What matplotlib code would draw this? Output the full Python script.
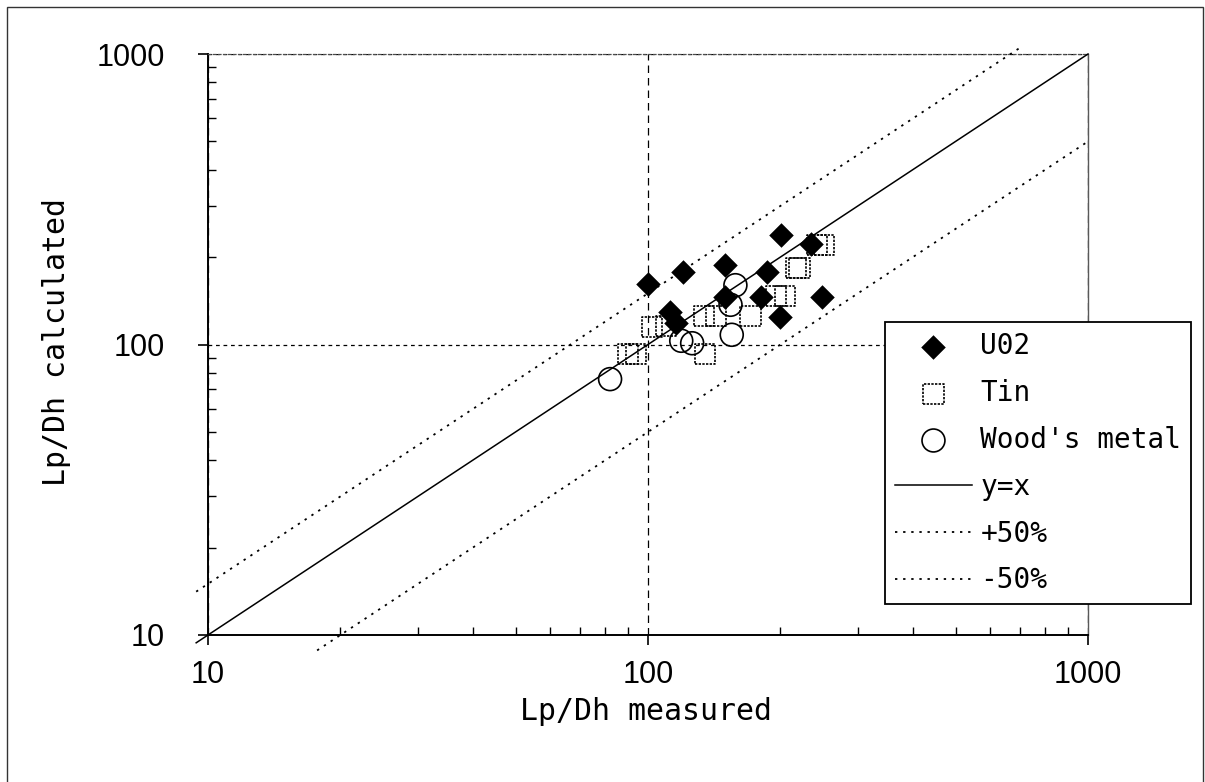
import numpy as np
import matplotlib
matplotlib.use("Agg")
import matplotlib.pyplot as plt
from matplotlib.patches import Rectangle
from matplotlib import font_manager

# measured / calculated Lp/Dh
uo2_meas = [201, 150, 120, 100, 186, 150, 181, 248, 235, 200, 112, 116]
uo2_calc = [239, 188, 178, 162, 178, 146, 146, 146, 221, 124, 129, 119]

tin_meas = [242, 251, 217, 221, 195, 205, 134, 143, 171, 102, 110, 90, 94, 135]
tin_calc = [220, 220, 183, 183, 147, 147, 125, 125, 125, 115, 116, 93, 93, 93]

wood_meas = [158, 154, 155, 119, 126, 82]
wood_calc = [160, 137, 108, 103, 101, 76]

# reference lines: y = x, +50 %, -50 %
line_x_eq = [9.4, 1000]
line_x_up = [9.4, 710]
line_x_lo = [17.7, 1000]

ticks = [10, 100, 1000]
tick_labels = ["10", "100", "1000"]

# narrow font for the tick numbers if there is one
names = {f.name for f in font_manager.fontManager.ttflist}
if "Liberation Sans Narrow" in names:
    tick_family, tick_size = ["Liberation Sans Narrow"], 26
else:
    tick_family, tick_size = ["Liberation Sans"], 22
monofont = ["DejaVu Sans Mono", "DejaVu Sans"]

W, H = 1205, 782
fig = plt.figure(figsize=(W / 100, H / 100), dpi=100)
ax = fig.add_axes([208 / W, 1 - 635 / H, 880 / W, 581 / H])
ax.set_xscale("log")
ax.set_yscale("log")
ax.set_xlim(10, 1000)
ax.set_ylim(10, 1000)

dot = (0, (1.3, 3.2))
ax.plot(line_x_eq, [v * 1.0 for v in line_x_eq], "k-", lw=1.1, clip_on=False, label="y=x", zorder=3)
ax.plot(line_x_up, [v * 1.5 for v in line_x_up], color="k", ls=dot, lw=1.3, clip_on=False, label="+50%", zorder=3)
ax.plot(line_x_lo, [v * 0.5 for v in line_x_lo], color="k", ls=dot, lw=1.3, clip_on=False, label="-50%", zorder=3)

ax.scatter(uo2_meas, uo2_calc, marker="D", s=12.5 ** 2, c="k", linewidths=0, label="U02", zorder=4)
ax.scatter(tin_meas, tin_calc, marker="s", s=14.5 ** 2, facecolors="none", edgecolors="k",
           linewidths=1.2, linestyles=(0, (1.4, 0.8)), label="Tin", zorder=4)
ax.scatter(wood_meas, wood_calc, marker="o", s=16.5 ** 2, facecolors="none", edgecolors="k",
           linewidths=1.2, label="Wood's metal", zorder=4)

# Excel-like gridlines at the decades
ax.grid(True, which="major", axis="x", color="k", ls=(0, (6, 4)), lw=0.9)
ax.grid(True, which="major", axis="y", color="k", ls=(0, (3, 3)), lw=0.9)
ax.set_axisbelow(True)

for s in ["left", "bottom"]:
    ax.spines[s].set_linewidth(1.4)
ax.spines["right"].set_color("0.35")
ax.spines["right"].set_linewidth(1.0)
ax.spines["top"].set_linestyle((0, (2, 2)))
ax.spines["top"].set_color("0.3")
ax.spines["top"].set_linewidth(0.9)

ax.set_xticks(ticks)
ax.set_xticklabels(tick_labels)
ax.set_yticks(ticks)
ax.set_yticklabels(tick_labels)
for lab in ax.get_xticklabels() + ax.get_yticklabels():
    lab.set_fontfamily(tick_family)
    lab.set_fontsize(tick_size)
ax.tick_params(axis="both", which="major", direction="out", length=7, width=1.2)
ax.tick_params(axis="x", which="major", pad=11)
ax.tick_params(axis="y", which="major", pad=24)
ax.tick_params(axis="both", which="minor", direction="in", length=6, width=1.0)
ax.tick_params(which="minor", labelbottom=False, labelleft=False)
ax.tick_params(top=False, right=False, which="both")

ax.set_xlabel("Lp/Dh measured", family=monofont, fontsize=21.5)
ax.set_ylabel("Lp/Dh calculated", family=monofont, fontsize=21.5)
ax.xaxis.set_label_coords(0.498, -0.1325)
ax.xaxis.label.set_va("center")
ax.yaxis.set_label_coords(-0.1716, 0.504)
ax.yaxis.label.set_va("center")

h, l = ax.get_legend_handles_labels()
order = ["U02", "Tin", "Wood's metal", "y=x", "+50%", "-50%"]
hh = [h[l.index(o)] for o in order]
leg = ax.legend(hh, order, loc="upper left", bbox_to_anchor=(885 / W, 1 - 322 / H),
                bbox_transform=fig.transFigure, prop=dict(family=monofont, size=20),
                frameon=True, fancybox=False, framealpha=1, edgecolor="k",
                handlelength=2.77, handletextpad=0.3, labelspacing=0.68,
                borderpad=0.36, borderaxespad=0, scatterpoints=1)
leg.get_frame().set_linewidth(1.3)
leg.set_zorder(10)

# outer chart border
fig.patches.append(Rectangle((7 / W, -0.02), 1196 / W, 1.02 - 7 / H, transform=fig.transFigure,
                             fill=False, lw=1.0, ec="0.2"))

fig.savefig("out.png", dpi=100)
